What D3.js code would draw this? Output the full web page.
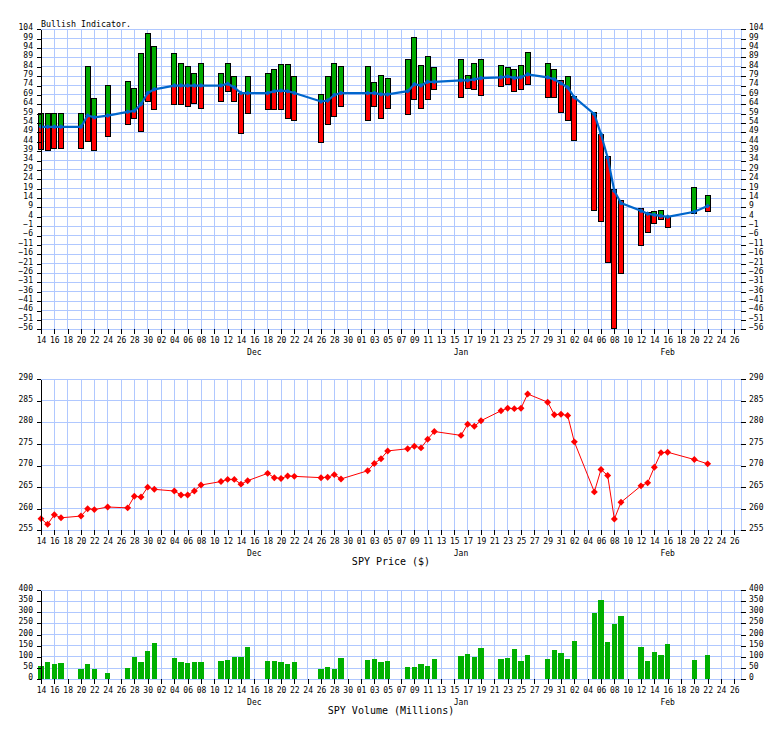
<!DOCTYPE html>
<meta charset="utf-8">
<style>
    body { margin: 0; background: #fff; }
    svg { display: block; }
    text { font-family: "DejaVu Sans Mono", monospace; fill: #000; }
    .axis text { font-size: 8px; }
    .axis path, .axis line { stroke: #000; shape-rendering: crispEdges; }
    .grid line { stroke: #b0c8ff; stroke-width: 1; shape-rendering: crispEdges; }
    .bar { stroke: #000; stroke-width: 1; shape-rendering: crispEdges; }
    .bar.up { fill: #00aa00; }
    .bar.down { fill: #ff0000; }
    .vol { fill: #00b000; shape-rendering: crispEdges; }
</style>
<body>
<script src="https://d3js.org/d3.v7.min.js"></script>
<script>

    // trading days (Feb 21 has no entry in the source chart)
    var dates = [
        "2017-11-14","2017-11-15","2017-11-16","2017-11-17","2017-11-20","2017-11-21","2017-11-22","2017-11-24",
        "2017-11-27","2017-11-28","2017-11-29","2017-11-30","2017-12-01","2017-12-04","2017-12-05","2017-12-06",
        "2017-12-07","2017-12-08","2017-12-11","2017-12-12","2017-12-13","2017-12-14","2017-12-15","2017-12-18",
        "2017-12-19","2017-12-20","2017-12-21","2017-12-22","2017-12-26","2017-12-27","2017-12-28","2017-12-29",
        "2018-01-02","2018-01-03","2018-01-04","2018-01-05","2018-01-08","2018-01-09","2018-01-10","2018-01-11",
        "2018-01-12","2018-01-16","2018-01-17","2018-01-18","2018-01-19","2018-01-22","2018-01-23","2018-01-24",
        "2018-01-25","2018-01-26","2018-01-29","2018-01-30","2018-01-31","2018-02-01","2018-02-02","2018-02-05",
        "2018-02-06","2018-02-07","2018-02-08","2018-02-09","2018-02-12","2018-02-13","2018-02-14","2018-02-15",
        "2018-02-16","2018-02-20","2018-02-22"
    ];

    // bullish indicator: bar top, green/red split, bar bottom, smoothed line
    var bullHigh = [
        59, 59, 59, 59, 59, 84, 67, 74, 76, 72.5, 91, 102, 95, 91, 86, 84,
        80.5, 86, 80.5, 86, 79, 70, 79, 80.5, 82.5, 85, 85, 79, 69, 79, 86, 84,
        84, 75.7, 79.5, 78, 88, 99.7, 84.8, 89.6, 83.7, 88, 79.5, 86, 88, 84.8, 83.7, 82.7,
        84.8, 91.7, 86, 82.7, 76.8, 79, 68.3, 59.7, 48, 36.3, 18.3, 12.5, 8.2, 6.1, 6.7, 7.2,
        4, 19.4, 15.1
    ];
    var bullSplit = [
        52, 52, 52, 52, 52, 58, 57, 58, 60, 60.5, 64, 70, 72, 74, 74, 74,
        74, 74, 74, 75, 73, 70, 70, 70, 71, 71.3, 71, 70, 65.5, 66, 69, 70,
        70, 70, 69.3, 69.3, 71, 74.7, 74, 76, 76, 76.8, 76.8, 77.3, 78, 78.4, 78.9, 78,
        78.4, 80, 78.4, 77.3, 76.8, 73, 68.3, 58.7, 48, 36.3, 18.3, 12.5, 8.2, 6.1, 5.1, 4.5,
        4, 5.6, 9.8
    ];
    var bullLow = [
        40, 39.5, 40.5, 40.5, 40.5, 44, 39.5, 47, 53, 56.5, 49.5, 65.5, 61, 64, 64, 63,
        64.5, 62, 65.5, 71, 65.5, 48.5, 59, 61, 61, 61, 56.5, 55.5, 43.7, 53, 57.5, 63,
        55.5, 63, 56.5, 62, 58.7, 66.7, 62, 66.7, 72, 67.7, 72.5, 72, 68.8, 73.6, 74.7, 71,
        72, 74.7, 67.7, 67.7, 59.7, 55.5, 44.8, 7.2, 1.3, -20.4, -55.5, -26.3, -11.4, -4.5, 0.3, 2.4,
        -1.8, 5.6, 6.7
    ];
    var bullLine = [
        52, 52, 52, 52, 52, 58, 57, 58, 60, 60.5, 64, 70, 72, 74, 74, 74,
        74, 74, 74, 75, 73, 70, 70, 70, 71, 71.3, 71, 70, 65.5, 66, 69, 70,
        70, 70, 69.3, 69.3, 71, 74.7, 74, 76, 76, 76.8, 76.8, 77.3, 78, 78.4, 78.9, 78,
        78.4, 80, 78.4, 77.3, 75.2, 73, 67.7, 58.7, 48, 35.5, 17.8, 11.3, 7.2, 5.6, 5, 4.5,
        4, 6.7, 9.8
    ];

    var spyPrice = [
        257.7, 256.4, 258.6, 257.9, 258.3, 260.0, 259.8, 260.4, 260.2, 262.9, 262.7, 265.0, 264.5, 264.1, 263.2, 263.2,
        264.1, 265.5, 266.3, 266.8, 266.8, 265.7, 266.5, 268.2, 267.2, 267.0, 267.6, 267.5, 267.2, 267.3, 267.9, 266.9,
        268.8, 270.5, 271.6, 273.4, 273.9, 274.5, 274.1, 276.1, 277.9, 277.0, 279.6, 279.1, 280.4, 282.7, 283.3, 283.2,
        283.3, 286.6, 284.7, 281.8, 281.9, 281.6, 275.5, 263.9, 269.1, 267.7, 257.6, 261.5, 265.3, 266.0, 269.6, 273.0,
        273.1, 271.4, 270.4
    ];

    var spyVolume = [
        60, 78, 69, 73, 46, 69, 46, 28, 51, 100, 78, 127, 163, 96, 78, 73,
        78, 78, 82, 87, 100, 100, 145, 82, 82, 78, 69, 78, 46, 55, 46, 96,
        87, 91, 78, 82, 55, 55, 69, 60, 91, 105, 113, 100, 140, 91, 96, 136,
        82, 109, 91, 131, 118, 91, 172, 297, 355, 167, 248, 284, 145, 82, 122, 109,
        158, 87, 109
    ];

    var months = [["2017-12-16", "Dec"], ["2018-01-16", "Jan"], ["2018-02-16", "Feb"]];
    var bullTicks = d3.range(104, -57, -5);
    var priceTicks = [255, 260, 265, 270, 275, 280, 285, 290];
    var volumeTicks = [0, 50, 100, 150, 200, 250, 300, 350, 400];

    var parse = d3.utcParse("%Y-%m-%d");
    var width = 784, height = 729;

    var x = d3.scaleUtc()
        .domain([parse("2017-11-14"), parse("2018-02-27")])
        .range([41, 741]);
    var dayTicks = d3.utcDay.range(parse("2017-11-14"), parse("2018-02-27"), 2);

    var yBull = d3.scaleLinear().domain([-56, 104]).range([329.3, 29.3]);
    var yPrice = d3.scaleLinear().domain([255, 290]).range([530.3, 379.3]);
    var yVol = d3.scaleLinear().domain([0, 400]).range([679.3, 590]);

    var rows = dates.map(function(d, i) {
        return {
            date: parse(d),
            hi: bullHigh[i], mid: bullSplit[i], lo: bullLow[i], line: bullLine[i],
            price: spyPrice[i], volume: spyVolume[i]
        };
    });

    var svg = d3.select("body").append("svg")
        .attr("width", width)
        .attr("height", height);

    function frame(y, ticks) {
        var y0 = y.range()[1], y1 = y.range()[0];
        var g = svg.append("g");

        var grid = g.append("g").attr("class", "grid");
        grid.selectAll("line.v")
            .data(dayTicks.concat([x.domain()[1]]))
            .join("line")
            .attr("class", "v")
            .attr("x1", d => x(d)).attr("x2", d => x(d))
            .attr("y1", y0).attr("y2", y1);
        grid.selectAll("line.h")
            .data(ticks)
            .join("line")
            .attr("class", "h")
            .attr("x1", x.range()[0]).attr("x2", x.range()[1])
            .attr("y1", d => y(d)).attr("y2", d => y(d));

        var marks = g.append("g");

        var axes = g.append("g");
        axes.append("g")
            .attr("class", "axis")
            .attr("transform", "translate(" + x.range()[0] + ",0)")
            .call(d3.axisLeft(y).tickValues(ticks).tickSize(4).tickSizeOuter(0).tickPadding(4))
            .call(s => s.selectAll("text").attr("dy", "0.05em"));
        axes.append("g")
            .attr("class", "axis")
            .attr("transform", "translate(" + x.range()[1] + ",0)")
            .call(d3.axisRight(y).tickValues(ticks).tickSize(5).tickPadding(3))
            .call(s => s.select(".domain").remove())
            .call(s => s.selectAll("text").attr("dy", "0.05em"));
        axes.append("g")
            .attr("class", "axis")
            .attr("transform", "translate(0," + y1 + ")")
            .call(d3.axisBottom(x).tickValues(dayTicks).tickSize(5).tickPadding(3)
                .tickFormat(d3.utcFormat("%d")))
            .call(s => s.select(".domain").remove());

        axes.selectAll("text.month")
            .data(months)
            .join("text")
            .attr("class", "month")
            .attr("x", d => x(parse(d[0])))
            .attr("y", y1 + 26)
            .attr("text-anchor", "middle")
            .style("font-size", "8px")
            .text(d => d[1]);

        return marks;
    }

    // ---- bullish indicator ----
    var bullG = frame(yBull, bullTicks);

    bullG.selectAll("rect.up")
        .data(rows.filter(d => d.hi > d.mid))
        .join("rect")
        .attr("class", "bar up")
        .attr("x", d => x(d.date) - 2.5)
        .attr("width", 5)
        .attr("y", d => yBull(d.hi))
        .attr("height", d => yBull(d.mid) - yBull(d.hi));

    bullG.selectAll("rect.down")
        .data(rows.filter(d => d.lo < d.mid))
        .join("rect")
        .attr("class", "bar down")
        .attr("x", d => x(d.date) - 2.5)
        .attr("width", 5)
        .attr("y", d => yBull(d.mid))
        .attr("height", d => yBull(d.lo) - yBull(d.mid));

    bullG.append("path")
        .datum(rows)
        .attr("fill", "none")
        .attr("stroke", "#0066cc")
        .attr("stroke-width", 2.2)
        .attr("d", d3.line().x(d => x(d.date)).y(d => yBull(d.line)));

    bullG.selectAll("path.bm")
        .data(rows)
        .join("path")
        .attr("class", "bm")
        .attr("fill", "#0066cc")
        .attr("transform", d => "translate(" + x(d.date) + "," + yBull(d.line) + ") rotate(45)")
        .attr("d", d3.symbol(d3.symbolSquare, 12));

    svg.append("text")
        .attr("x", 41)
        .attr("y", 26.5)
        .style("font-size", "8.3px")
        .text("Bullish Indicator.");

    // ---- SPY price ----
    var priceG = frame(yPrice, priceTicks);

    priceG.append("path")
        .datum(rows)
        .attr("fill", "none")
        .attr("stroke", "#ff0000")
        .attr("stroke-width", 1)
        .attr("d", d3.line().x(d => x(d.date)).y(d => yPrice(d.price)));

    priceG.selectAll("path.pm")
        .data(rows)
        .join("path")
        .attr("class", "pm")
        .attr("fill", "#ff0000")
        .attr("transform", d => "translate(" + x(d.date) + "," + yPrice(d.price) + ") rotate(45)")
        .attr("d", d3.symbol(d3.symbolSquare, 24));

    svg.append("text")
        .attr("x", 391)
        .attr("y", 565)
        .attr("text-anchor", "middle")
        .style("font-size", "10px")
        .text("SPY Price ($)");

    // ---- SPY volume ----
    var volG = frame(yVol, volumeTicks);

    volG.selectAll("rect.vol")
        .data(rows)
        .join("rect")
        .attr("class", "vol")
        .attr("x", d => x(d.date) - 2.75)
        .attr("width", 5.5)
        .attr("y", d => yVol(d.volume))
        .attr("height", d => yVol(0) - yVol(d.volume));

    svg.append("text")
        .attr("x", 391)
        .attr("y", 714)
        .attr("text-anchor", "middle")
        .style("font-size", "10px")
        .text("SPY Volume (Millions)");

</script>
